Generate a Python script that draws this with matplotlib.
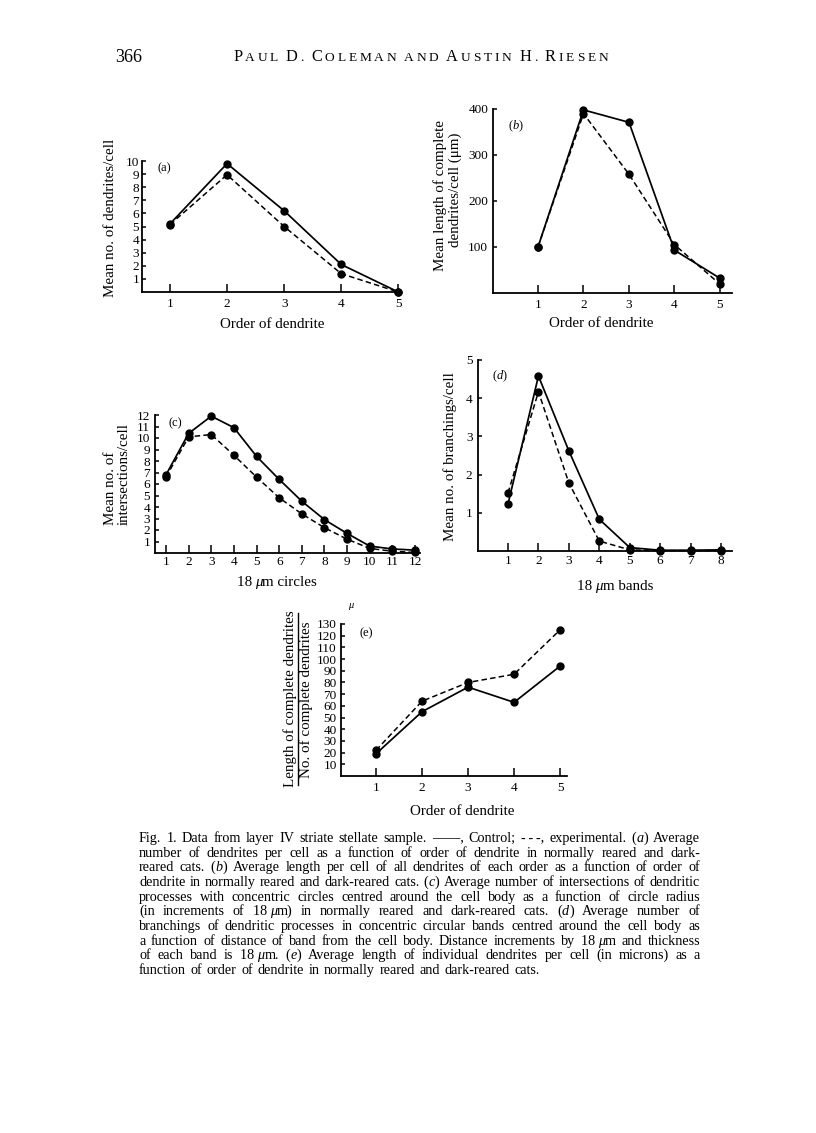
import matplotlib
matplotlib.use("Agg")
import matplotlib.pyplot as plt
from matplotlib.lines import Line2D

plt.rcParams['font.family'] = ['Liberation Serif', 'DejaVu Serif']

# ---------------- data ----------------
order_a = [1, 2, 3, 4, 5]
a_control = [5.2, 9.8, 6.2, 2.1, 0.0]
a_exp = [5.15, 8.95, 5.0, 1.4, 0.0]

order_b = [1, 2, 3, 4, 5]
b_control = [100, 398, 371, 93, 32]
b_exp = [100, 390, 258, 105, 19]

circles_c = [1, 2, 3, 4, 5, 6, 7, 8, 9, 10, 11, 12]
c_control = [6.8, 10.4, 11.9, 10.9, 8.4, 6.4, 4.5, 2.9, 1.7, 0.6, 0.35, 0.25]
c_exp = [6.6, 10.1, 10.3, 8.5, 6.6, 4.8, 3.4, 2.2, 1.2, 0.4, 0.15, 0.05]

bands_d = [1, 2, 3, 4, 5, 6, 7, 8]
d_control = [1.23, 4.58, 2.62, 0.83, 0.09, 0.02, 0.02, 0.03]
d_exp = [1.52, 4.17, 1.78, 0.26, 0.03, 0.01, 0.01, 0.01]

order_e = [1, 2, 3, 4, 5]
e_control = [19, 55, 76, 63, 94]
e_exp = [22, 64, 80, 87, 125]

yticks_a = list(range(1, 11))
yticks_b = [100, 200, 300, 400]
yticks_c = list(range(1, 13))
yticks_d = [1, 2, 3, 4, 5]
yticks_e = list(range(10, 140, 10))

caption_lines = [
    "Fig. 1. Data from layer IV striate stellate sample. \u2014\u2014, Control; -\u2009-\u2009-, experimental. (*a*) Average",
    "number of dendrites per cell as a function of order of dendrite in normally reared and dark-",
    "reared cats. (*b*) Average length per cell of all dendrites of each order as a function of order of",
    "dendrite in normally reared and dark-reared cats. (*c*) Average number of intersections of dendritic",
    "processes with concentric circles centred around the cell body as a function of circle radius",
    "(in increments of 18\u2009*\u03bc*m) in normally reared and dark-reared cats. (*d*) Average number of",
    "branchings of dendritic processes in concentric circular bands centred around the cell body as",
    "a function of distance of band from the cell body. Distance increments by 18\u2009*\u03bc*m and thickness",
    "of each band is 18\u2009*\u03bc*m. (*e*) Average length of individual dendrites per cell (in microns) as a",
    "function of order of dendrite in normally reared and dark-reared cats.",
]

# ---------------- figure ----------------
W, H = 816, 1133
fig = plt.figure(figsize=(W / 100, H / 100), dpi=100)
fig.patch.set_facecolor('white')
renderer = fig.canvas.get_renderer()

TICK_FS = 9.5
LAB_FS = 10.8
PANEL_FS = 9


def fx(x):
    return x / W


def fy(y):
    return 1 - y / H


def add_ax(l, r, t, b):
    return fig.add_axes([fx(l), fy(b), (r - l) / W, (b - t) / H])


def style(ax, xlim, ylim, xticks, yticks, xpad, ypad):
    ax.set_xlim(*xlim)
    ax.set_ylim(*ylim)
    ax.patch.set_alpha(0)
    for s in ['top', 'right']:
        ax.spines[s].set_visible(False)
    for s in ['left', 'bottom']:
        ax.spines[s].set_linewidth(1.3)
    ax.set_xticks(xticks)
    ax.set_yticks(yticks)
    ax.tick_params(axis='x', direction='in', length=5.5, width=1.1, pad=xpad, labelsize=TICK_FS)
    ax.tick_params(axis='y', direction='in', length=3, width=1.1, pad=ypad, labelsize=TICK_FS)


def draw(ax, x, ctrl, exp):
    ax.plot(x, exp, color='k', lw=1.1, ls=(0, (3.6, 2.1)), marker='o', ms=5,
            clip_on=False, zorder=3)
    ax.plot(x, ctrl, color='k', lw=1.25, ls='-', marker='o', ms=5,
            clip_on=False, zorder=4)


def ftext(x, y, s, **kw):
    return fig.text(fx(x), fy(y), s, **kw)


def measure(s, **kw):
    t = fig.text(0, 0, s, **kw)
    w = t.get_window_extent(renderer).width
    t.remove()
    return w


def segments(word):
    parts = word.split('*')
    return [(p, 'italic' if i % 2 == 1 else 'normal') for i, p in enumerate(parts) if p]


def mixed(xc, y, s, fontsize):
    segs = segments(s)
    widths = [measure(p, fontsize=fontsize, style=st) for p, st in segs]
    x = xc - sum(widths) / 2
    for (p, st), w in zip(segs, widths):
        ftext(x, y, p, fontsize=fontsize, style=st, ha='left', va='baseline')
        x += w


# (a)
ax_a = add_ax(142, 400, 161, 292)
draw(ax_a, order_a, a_control, a_exp)
style(ax_a, (0.51, 5.03), (0, 10), order_a, yticks_a, 4.5, 2)
mixed(164, 171, "(a)", PANEL_FS)
ftext(111, 218, "Mean no. of dendrites/cell", fontsize=LAB_FS, rotation=90, ha='center', va='center')
mixed(272, 328, "Order of dendrite", LAB_FS)

# (b)
ax_b = add_ax(493, 732, 109, 293)
draw(ax_b, order_b, b_control, b_exp)
style(ax_b, (0.011, 5.264), (0, 400), order_b, yticks_b, 4.5, 3.5)
mixed(516, 129, "(*b*)", PANEL_FS)
ftext(440, 196, "Mean length of complete", fontsize=LAB_FS, rotation=90, ha='center', va='center')
ftext(455, 190, "dendrites/cell (\u03bcm)", fontsize=LAB_FS, rotation=90, ha='center', va='center')
mixed(601, 327, "Order of dendrite", LAB_FS)

# (c)
ax_c = add_ax(155, 420, 415, 553)
draw(ax_c, circles_c, c_control, c_exp)
style(ax_c, (0.514, 12.22), (0, 12), circles_c, yticks_c, 2.0, 3.5)
mixed(175, 426, "(c)", PANEL_FS)
ftext(111, 525, "Mean no. of", fontsize=LAB_FS, rotation=90, ha='center', va='bottom')
ftext(124, 525, "intersections/cell", fontsize=LAB_FS, rotation=90, ha='center', va='bottom')
mixed(277, 586, "18\u2009*\u03bc*m circles", LAB_FS)

# (d)
ax_d = add_ax(478, 732, 360, 551)
draw(ax_d, bands_d, d_control, d_exp)
style(ax_d, (0.014, 8.36), (0, 5), bands_d, yticks_d, 3.0, 4)
mixed(500, 379, "(*d*)", PANEL_FS)
ftext(450, 457, "Mean no. of branchings/cell", fontsize=LAB_FS, rotation=90, ha='center', va='center')
mixed(615, 590, "18\u2009*\u03bc*m bands", LAB_FS)

# (e)
ax_e = add_ax(341, 567, 624, 776)
draw(ax_e, order_e, e_control, e_exp)
style(ax_e, (0.239, 5.15), (0, 130), order_e, yticks_e, 4.5, 3)
mixed(366, 636, "(e)", PANEL_FS)
ftext(351, 606, "\u03bc", fontsize=7.5, style='italic', ha='center', va='center')
ftext(290, 699, "Length of complete dendrites", fontsize=LAB_FS, rotation=90, ha='center', va='center')
fig.add_artist(Line2D([fx(298), fx(298)], [fy(613), fy(785)], color='k', lw=1.0,
                      transform=fig.transFigure))
ftext(306, 700, "No. of complete dendrites", fontsize=LAB_FS, rotation=90, ha='center', va='center')
mixed(462, 815, "Order of dendrite", LAB_FS)

# ---------------- header ----------------
ftext(115, 62, "366", fontsize=13, ha='left', va='baseline')

title = "PAUL D. COLEMAN AND AUSTIN H. RIESEN"
big_idx = {0, 5, 8, 20, 27, 30}
SMALL, BIG = 9.6, 11.8
chars = []
for i, c in enumerate(title):
    size = BIG if i in big_idx else SMALL
    if c == ' ':
        w = measure("A A", fontsize=SMALL) - measure("AA", fontsize=SMALL)
    else:
        w = measure(c, fontsize=size)
    chars.append((c, size, w))
x0t, x1t = 233, 608
track = ((x1t - x0t) - sum(c[2] for c in chars)) / (len(chars) - 1)
xc = x0t
for c, size, w in chars:
    if c != ' ':
        ftext(xc, 61, c, fontsize=size, ha='left', va='baseline')
    xc += w + track

# ---------------- caption ----------------
cap_fs = 10.2
cap_x0, cap_x1 = 139, 700
cap_y0, cap_dy = 842, 14.65
space_w = measure("a a", fontsize=cap_fs) - measure("aa", fontsize=cap_fs)
for li, line in enumerate(caption_lines):
    words = line.split(' ')
    wlist = []
    for wd in words:
        segs = segments(wd)
        widths = [measure(s, fontsize=cap_fs, style=st) for s, st in segs]
        wlist.append((segs, widths))
    total = sum(sum(w) for _, w in wlist)
    if li < len(caption_lines) - 1:
        gap = (cap_x1 - cap_x0 - total) / (len(wlist) - 1)
    else:
        gap = space_w * 1.3
    xc = cap_x0
    y = cap_y0 + li * cap_dy
    for segs, widths in wlist:
        for (s, st), w in zip(segs, widths):
            ftext(xc, y, s, fontsize=cap_fs, style=st, ha='left', va='baseline')
            xc += w
        xc += gap

fig.savefig("out.png", dpi=100, facecolor='white')
